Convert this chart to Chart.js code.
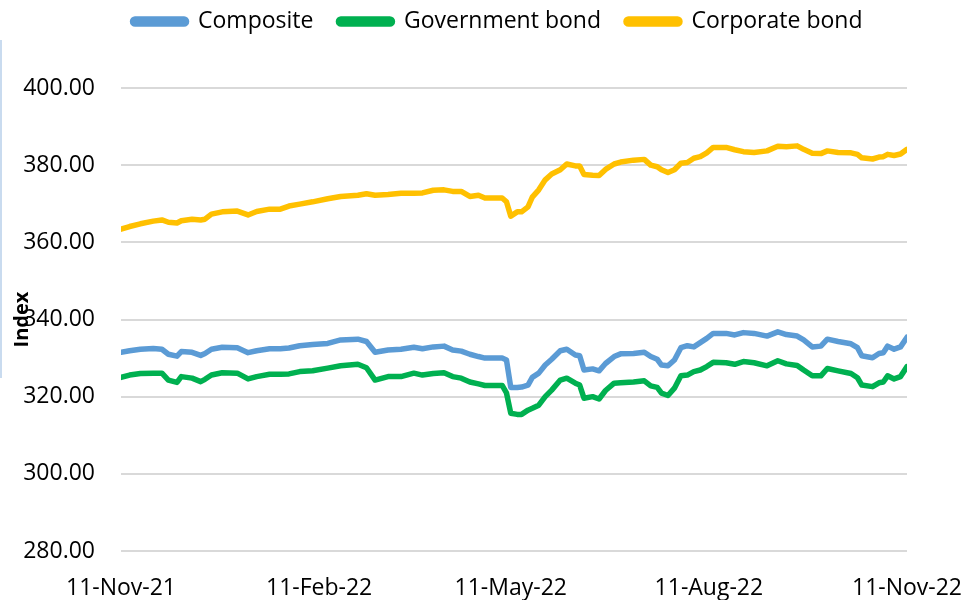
<!DOCTYPE html>
<html>
<head>
<meta charset="utf-8">
<title>Bond index</title>
<script src="https://cdn.jsdelivr.net/npm/chart.js@4.4.0/dist/chart.umd.min.js"></script>
<style>
  body { margin: 0; background: #fff; }
  #wrap { position: relative; width: 963px; height: 600px; }
  #edge { position: absolute; left: 0; top: 40px; width: 2px; height: 338px; background: #c9dbef; }
</style>
</head>
<body>
<div id="wrap">
  <canvas id="indexChart" width="963" height="600"></canvas>
  <div id="edge"></div>
</div>
<script>
//SETUP
// days counted from 11-Nov-21
const days = [0, 4, 9, 15, 19, 22, 26, 28, 33, 37, 39, 42, 47, 54, 59, 63, 69, 74, 78, 83,
  89, 96, 102, 110, 114, 118, 124, 130, 136, 140, 145, 150, 154, 158, 162, 166, 169, 177, 179, 181,
  184, 186, 189, 191, 194, 197, 200, 204, 207, 211, 213, 215, 219, 222, 225, 229, 232, 238, 243, 246,
  249, 251, 254, 257, 260, 263, 266, 269, 272, 275, 281, 285, 289, 294, 300, 305, 309, 314, 317, 321,
  325, 328, 333, 339, 342, 344, 349, 352, 354, 356, 359, 362, 365];

const composite = [331.5, 331.9, 332.3, 332.5, 332.3, 331.0, 330.5, 331.7, 331.5, 330.7, 331.2, 332.3, 332.8, 332.7, 331.4, 331.9, 332.4, 332.4, 332.6, 333.2,
  333.5, 333.8, 334.7, 334.9, 334.3, 331.5, 332.1, 332.3, 332.8, 332.4, 332.9, 333.1, 332.1, 331.8, 331.0, 330.4, 330.0, 330.0, 329.5, 322.4,
  322.4, 322.5, 323.0, 325.0, 326.1, 328.2, 329.7, 331.9, 332.3, 330.8, 330.6, 326.9, 327.2, 326.7, 328.6, 330.4, 331.1, 331.2, 331.5, 330.4,
  329.7, 328.2, 328.0, 329.5, 332.7, 333.2, 332.9, 334.0, 335.1, 336.4, 336.4, 336.0, 336.6, 336.4, 335.7, 336.8, 336.1, 335.7, 334.7, 332.9,
  333.1, 334.9, 334.3, 333.7, 332.7, 330.6, 330.1, 331.2, 331.4, 333.1, 332.3, 332.9, 335.4];

const government = [325.0, 325.6, 326.0, 326.1, 326.1, 324.3, 323.7, 325.2, 324.8, 323.9, 324.5, 325.6, 326.2, 326.1, 324.6, 325.2, 325.8, 325.8, 325.9, 326.5,
  326.7, 327.4, 328.0, 328.4, 327.5, 324.3, 325.2, 325.2, 326.1, 325.6, 326.0, 326.2, 325.2, 324.8, 323.8, 323.3, 322.9, 322.9, 321.0, 315.7,
  315.4, 315.4, 316.5, 317.0, 317.8, 320.0, 321.7, 324.3, 324.8, 323.5, 323.0, 319.6, 320.0, 319.4, 321.6, 323.5, 323.6, 323.8, 324.1, 322.8,
  322.4, 320.9, 320.3, 322.2, 325.4, 325.6, 326.5, 326.9, 327.8, 328.9, 328.8, 328.4, 329.1, 328.8, 328.0, 329.3, 328.5, 328.1, 326.9, 325.4,
  325.4, 327.3, 326.7, 326.0, 324.9, 323.0, 322.6, 323.6, 323.8, 325.4, 324.6, 325.2, 327.8];

const corporate = [363.4, 364.1, 364.8, 365.5, 365.8, 365.2, 365.0, 365.6, 366.0, 365.8, 366.0, 367.3, 367.9, 368.1, 367.1, 368.0, 368.6, 368.6, 369.4, 369.9,
  370.5, 371.3, 371.9, 372.2, 372.6, 372.2, 372.4, 372.7, 372.7, 372.8, 373.5, 373.6, 373.2, 373.2, 371.9, 372.2, 371.5, 371.5, 370.5, 366.8,
  367.9, 367.9, 369.2, 371.7, 373.6, 376.2, 377.7, 378.8, 380.3, 379.8, 379.8, 377.6, 377.4, 377.3, 378.9, 380.3, 380.8, 381.3, 381.5, 380.0,
  379.6, 378.8, 378.1, 378.8, 380.5, 380.7, 381.8, 382.2, 383.2, 384.6, 384.6, 384.0, 383.5, 383.3, 383.7, 384.9, 384.8, 385.0, 384.1, 383.1,
  383.0, 383.7, 383.3, 383.2, 382.8, 381.9, 381.6, 382.1, 382.2, 382.8, 382.5, 382.9, 384.1];

const tickDays = [0, 92, 181, 273, 365];
const tickLabels = ['11-Nov-21', '11-Feb-22', '11-May-22', '11-Aug-22', '11-Nov-22'];
//SETUP

const font = 'Open Sans';

function points(values) {
  return values.map((v, i) => ({ x: days[i], y: v }));
}

function line(label, values, color) {
  return {
    label: label,
    data: points(values),
    borderColor: color,
    backgroundColor: color,
    borderWidth: 5.5,
    pointRadius: 0,
    borderJoinStyle: 'round',
    borderCapStyle: 'round'
  };
}

const data = {
  datasets: [
    line('Composite', composite, '#5B9BD5'),
    line('Government bond', government, '#00B050'),
    line('Corporate bond', corporate, '#FFC000')
  ]
};

// make room between legend and plot, and nudge the legend right
const legendSpace = {
  id: 'legendSpace',
  beforeInit(chart) {
    const fit = chart.legend.fit;
    chart.legend.fit = function () {
      fit.call(this);
      this.height = 103;
    };
  },
  afterLayout(chart) {
    chart.legend.left = 32;
  }
};

//CONFIGURE
const config = {
  type: 'line',
  data: data,
  options: {
    responsive: false,
    animation: false,
    layout: { padding: { top: -15, left: 0, right: 0, bottom: 0 } },
    plugins: {
      legend: {
        position: 'top',
        labels: {
          color: '#000',
          font: { family: font, size: 23 },
          boxWidth: 54,
          boxHeight: 5,
          useBorderRadius: true,
          borderRadius: 2.5,
          padding: 25
        }
      },
      tooltip: { enabled: false }
    },
    scales: {
      x: {
        type: 'linear',
        min: 0,
        max: 365,
        grid: { display: false },
        border: { display: false },
        afterBuildTicks: (scale) => { scale.ticks = tickDays.map(v => ({ value: v })); },
        afterFit: (scale) => {
          scale.height = 49;
          scale.paddingLeft = 0;
          scale.paddingRight = 56;
        },
        ticks: {
          autoSkip: false,
          maxRotation: 0,
          padding: 16,
          color: '#000',
          font: { family: font, size: 23 },
          callback: (value) => tickLabels[tickDays.indexOf(value)]
        }
      },
      y: {
        min: 280,
        max: 400,
        grid: { color: '#D9D9D9', lineWidth: 2, drawTicks: false },
        border: { display: false },
        afterFit: (scale) => { scale.width = 121; },
        ticks: {
          stepSize: 20,
          padding: 26,
          color: '#000',
          font: { family: font, size: 23 },
          callback: (value) => value.toFixed(2)
        },
        title: {
          display: true,
          text: 'Index',
          color: '#000',
          font: { family: font, size: 20, weight: 'bold' },
          padding: { top: 10, bottom: 0 }
        }
      }
    }
  },
  plugins: [legendSpace]
};
//CONFIGURE

//IMPLEMENT
const indexChart = new Chart(document.getElementById('indexChart'), config);
//IMPLEMENT
</script>
</body>
</html>
